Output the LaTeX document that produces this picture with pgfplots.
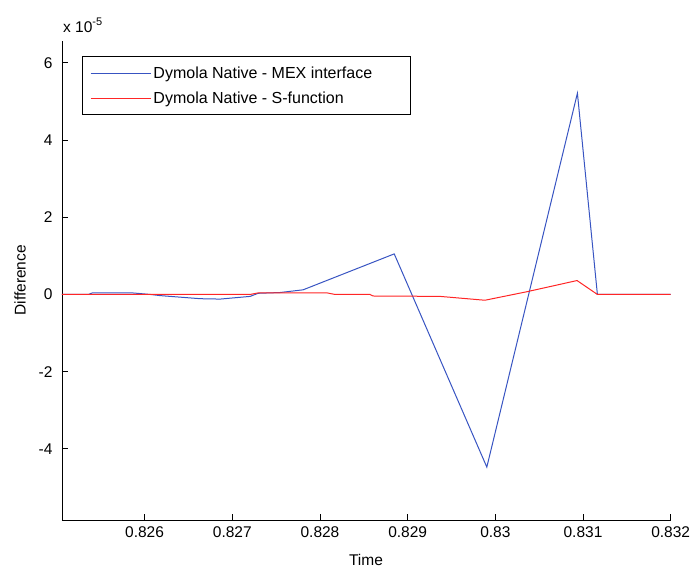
\documentclass[border=0pt]{standalone}
\usepackage{fontspec}
\setmainfont{Liberation Sans}
\usepackage{pgfplots}
\pgfplotsset{compat=1.18}
\definecolor{mblue}{rgb}{0.22,0.33,0.76}
\definecolor{mred}{rgb}{1,0.15,0.15}
\begin{document}
\begin{tikzpicture}
\begin{axis}[
  name=ax,
  scale only axis,
  width=608.7pt, height=479.3pt,
  xmin=0.825058, xmax=0.832,
  ymin=-5.84, ymax=6.57,
  axis x line*=bottom, axis y line*=left,
  axis line style={line width=0.9pt, -},
  tick align=inside,
  major tick length=6pt,
  tick style={line width=0.9pt, black},
  xtick={0.826,0.827,0.828,0.829,0.830,0.831,0.832},
  xticklabels={0.826,0.827,0.828,0.829,0.83,0.831,0.832},
  ytick={-4,-2,0,2,4,6},
  yticklabels={-4,-2,0,2,4,6},
  ticklabel style={font=\fontsize{15.5}{18}\selectfont},
  xticklabel style={yshift=-3pt},
  yticklabel style={xshift=-6pt},
  /pgf/number format/assume math mode=true,
  xlabel={Time},
  ylabel={Difference},
  label style={font=\fontsize{15.5}{18}\selectfont},
  xlabel style={at={(axis description cs:0.4994,-0.0835)}, anchor=center},
  ylabel style={at={(axis description cs:-0.069,0.5)}, anchor=center},
  legend style={at={(axis description cs:0.0329,0.968)}, anchor=north west,
    draw=black, line width=0.9pt, font=\fontsize{16}{18}\selectfont,
    inner xsep=8pt, inner ysep=8pt, row sep=8pt},
  legend cell align=left,
  legend image code/.code={\draw[#1, line width=1pt] (0pt,0pt) -- (56pt,0pt); \path (0pt,0pt) -- (60pt,0pt);},
  clip=false,
]
\addplot[mblue, line width=1pt] coordinates {
(0.825058,0) (0.825359,0) (0.825404,0.04) (0.825860,0.04) (0.826065,0)
(0.826178,-0.03) (0.826634,-0.11) (0.826862,-0.12) (0.827204,-0.05)
(0.827295,0.03) (0.827545,0.05) (0.827808,0.12) (0.828847,1.05)
(0.829903,-4.47) (0.830936,5.21) (0.831164,0) (0.832,0)
};
\addlegendentry{Dymola Native - MEX interface\rule{28pt}{0pt}}
\addplot[mred, line width=1pt] coordinates {
(0.825058,0) (0.827204,0) (0.827295,0.04) (0.828081,0.04) (0.828172,0)
(0.828571,0) (0.828605,-0.04) (0.829368,-0.05) (0.829881,-0.15)
(0.830359,0.07) (0.830932,0.36) (0.831164,0) (0.832,0)
};
\addlegendentry{Dymola Native - S-function}
\node[anchor=base west, font=\fontsize{15.5}{18}\selectfont, inner sep=0pt]
  at (axis description cs:0.0016,1.018) {x 10\raisebox{7pt}{\fontsize{11}{12}\selectfont -5}};
\end{axis}
\path (ax.south west) ++(-62pt,-53pt) rectangle ++(695pt,573pt);
\end{tikzpicture}
\end{document}
